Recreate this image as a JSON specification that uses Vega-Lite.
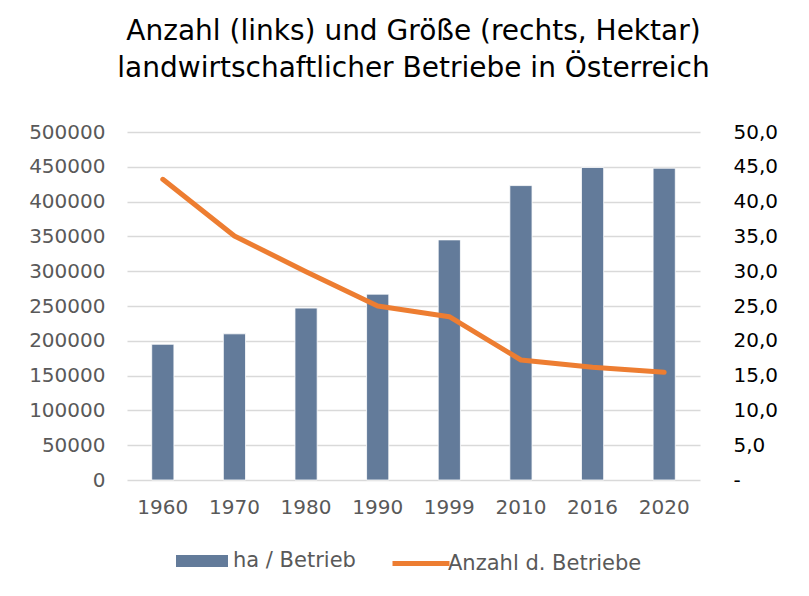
{
  "$schema": "https://vega.github.io/schema/vega-lite/v6.json",
  "width": 573,
  "height": 348,
  "autosize": {"type": "none"},
  "padding": {"left": 127, "top": 132, "right": 109, "bottom": 116},
  "background": "white",
  "title": {
    "text": ["Anzahl (links) und Größe (rechts, Hektar)", "landwirtschaftlicher Betriebe in Österreich"],
    "font": "DejaVu Sans",
    "fontSize": 28,
    "fontWeight": "normal",
    "color": "#000000",
    "lineHeight": 37,
    "anchor": "middle",
    "offset": 39
  },
  "data": {
    "values": [
      {"Jahr": "1960", "ha": 19.5, "Anzahl": 432000},
      {"Jahr": "1970", "ha": 21.0, "Anzahl": 350600},
      {"Jahr": "1980", "ha": 24.7, "Anzahl": 299300},
      {"Jahr": "1990", "ha": 26.7, "Anzahl": 250000},
      {"Jahr": "1999", "ha": 34.5, "Anzahl": 234600},
      {"Jahr": "2010", "ha": 42.3, "Anzahl": 172400},
      {"Jahr": "2016", "ha": 44.9, "Anzahl": 161900},
      {"Jahr": "2020", "ha": 44.8, "Anzahl": 154700}
    ]
  },
  "encoding": {
    "x": {
      "field": "Jahr",
      "type": "ordinal",
      "scale": {"paddingInner": 0.69, "paddingOuter": 0.345},
      "axis": {
        "title": null,
        "labelAngle": 0,
        "labelColor": "#595959",
        "labelPadding": 17,
        "ticks": false,
        "domain": false,
        "grid": false
      }
    }
  },
  "layer": [
    {
      "mark": {"type": "bar", "stroke": "#FFFFFF", "strokeWidth": 0.8},
      "encoding": {
        "y": {
          "field": "ha",
          "type": "quantitative",
          "scale": {"domain": [0, 50], "nice": false},
          "axis": {
            "orient": "right",
            "title": null,
            "values": [0, 5, 10, 15, 20, 25, 30, 35, 40, 45, 50],
            "labelExpr": "datum.value == 0 ? '-' : replace(format(datum.value, '.1f'), '.', ',')",
            "labelAlign": "left",
            "labelColor": "#000000",
            "labelPadding": 33,
            "grid": false,
            "ticks": false,
            "domain": false
          }
        },
        "fill": {
          "datum": "ha / Betrieb",
          "type": "nominal",
          "scale": {"range": ["#637B9A"]},
          "legend": {
            "orient": "none",
            "legendX": 49,
            "legendY": 403,
            "direction": "horizontal",
            "title": null,
            "symbolType": "M-1,-0.23H1V0.23H-1Z",
            "symbolSize": 2704,
            "symbolStrokeWidth": 0,
            "labelOffset": 5
          }
        }
      }
    },
    {
      "mark": {"type": "line", "strokeWidth": 5, "strokeCap": "round", "strokeJoin": "round"},
      "encoding": {
        "y": {
          "field": "Anzahl",
          "type": "quantitative",
          "scale": {"domain": [0, 500000], "nice": false},
          "axis": {
            "orient": "left",
            "title": null,
            "values": [0, 50000, 100000, 150000, 200000, 250000, 300000, 350000, 400000, 450000, 500000],
            "format": "d",
            "labelColor": "#595959",
            "labelPadding": 22,
            "grid": true,
            "ticks": false,
            "domain": false
          }
        },
        "stroke": {
          "datum": "Anzahl d. Betriebe",
          "type": "nominal",
          "scale": {"range": ["#ED7D31"]},
          "legend": {
            "orient": "none",
            "legendX": 263,
            "legendY": 400.5,
            "direction": "horizontal",
            "title": null,
            "symbolType": "stroke",
            "symbolSize": 3249,
            "symbolStrokeWidth": 5,
            "labelOffset": -4
          }
        }
      }
    }
  ],
  "resolve": {"scale": {"y": "independent"}},
  "config": {
    "view": {"stroke": null},
    "axis": {
      "labelFont": "DejaVu Sans",
      "labelFontSize": 20,
      "gridColor": "#D9D9D9",
      "gridWidth": 1.5
    },
    "legend": {
      "labelFont": "DejaVu Sans",
      "labelFontSize": 21,
      "labelColor": "#595959",
      "labelLimit": 400,
      "padding": 0
    }
  }
}
